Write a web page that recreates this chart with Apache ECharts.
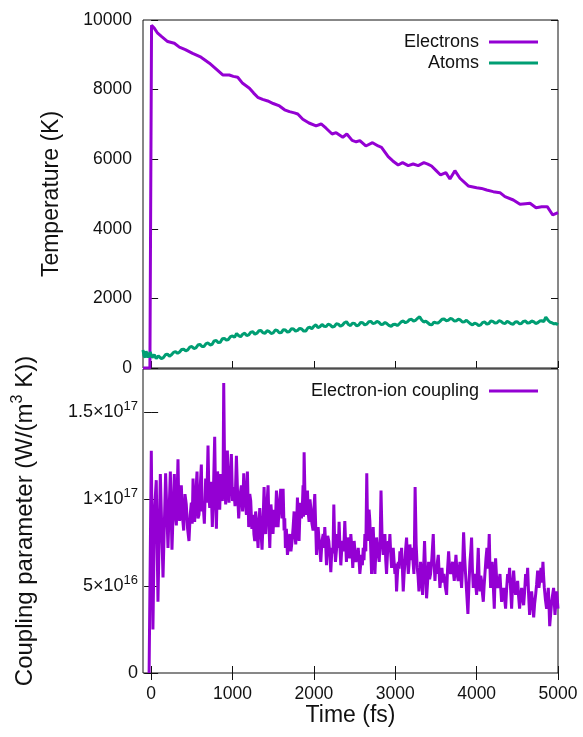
<!DOCTYPE html>
<html>
<head>
<meta charset="utf-8">
<script src="https://cdn.jsdelivr.net/npm/echarts@6/dist/echarts.min.js"></script>
<style>
  html, body { margin: 0; padding: 0; background: #fff; }
  #chart { width: 583px; height: 737px; }
</style>
</head>
<body>
<div id="chart"></div>
<script>
  // time in fs, temperature in K
  const electronPoints = [
    [-100, 0], [-15, 0], [5, 9850], [40, 9760], [80, 9620], [130, 9520], [203, 9380], [285, 9330],
    [347, 9220], [420, 9150], [510, 9040], [613, 8930], [716, 8760], [800, 8590], [880, 8420],
    [960, 8420], [1010, 8380], [1064, 8354], [1125, 8180], [1208, 8040], [1260, 7900], [1310, 7780],
    [1370, 7720], [1433, 7673], [1500, 7600], [1577, 7530], [1640, 7420], [1700, 7366], [1760, 7330],
    [1802, 7300], [1864, 7150], [1940, 7040], [2027, 6955], [2089, 7012], [2150, 6890], [2224, 6725],
    [2273, 6763], [2355, 6630], [2405, 6725], [2470, 6540], [2520, 6500], [2565, 6533], [2638, 6380],
    [2721, 6475], [2790, 6380], [2831, 6342], [2913, 6073], [2970, 5950], [3036, 5834], [3090, 5900],
    [3159, 5814], [3220, 5863], [3282, 5814], [3352, 5900], [3400, 5860], [3446, 5805], [3500, 5680],
    [3557, 5547], [3622, 5613], [3672, 5432], [3733, 5670], [3795, 5452], [3897, 5231], [4000, 5182],
    [4060, 5160], [4123, 5116], [4204, 5067], [4287, 5038], [4348, 4923], [4451, 4828], [4533, 4704],
    [4600, 4720], [4656, 4733], [4730, 4607], [4800, 4636], [4868, 4636], [4935, 4397], [5000, 4464]
  ];

  const atomPoints = [
    [-100, 520], [-88, 360], [-75, 300], [-62, 480], [-50, 450], [-37, 300], [-25, 280], [-12, 460],
    [0, 420], [12, 300], [25, 250], [38, 380], [50, 360], [62, 270], [75, 240], [88, 350], [100, 340],
    [125, 270], [150, 300], [175, 380], [200, 400], [225, 340], [250, 380], [275, 450], [300, 470],
    [325, 420], [350, 460], [375, 530], [400, 540], [425, 490], [450, 520], [475, 600], [500, 620],
    [525, 560], [550, 580], [575, 660], [600, 680], [625, 620], [650, 620], [675, 700], [700, 720],
    [725, 660], [750, 680], [775, 780], [800, 790], [825, 730], [850, 740], [875, 840], [900, 850],
    [925, 800], [950, 820], [975, 900], [1000, 920], [1025, 880], [1050, 990], [1075, 930], [1100, 900],
    [1125, 970], [1150, 1000], [1175, 930], [1200, 950], [1225, 1030], [1250, 1040], [1275, 970],
    [1300, 1000], [1325, 1070], [1350, 1080], [1375, 1010], [1400, 1000], [1425, 1070], [1450, 1050],
    [1475, 990], [1500, 1010], [1525, 1090], [1550, 1080], [1575, 1010], [1600, 1020], [1625, 1100],
    [1650, 1090], [1675, 1030], [1700, 1050], [1725, 1130], [1750, 1120], [1775, 1060], [1800, 1080],
    [1825, 1140], [1850, 1120], [1875, 1060], [1900, 1060], [1925, 1150], [1950, 1170], [1975, 1130],
    [2000, 1200], [2025, 1240], [2050, 1160], [2075, 1190], [2100, 1250], [2125, 1200], [2150, 1190],
    [2175, 1260], [2200, 1240], [2225, 1180], [2250, 1190], [2275, 1270], [2300, 1260], [2325, 1200],
    [2350, 1230], [2375, 1300], [2400, 1330], [2425, 1250], [2450, 1220], [2475, 1290], [2500, 1280],
    [2525, 1210], [2550, 1230], [2575, 1310], [2600, 1300], [2625, 1240], [2650, 1260], [2675, 1330],
    [2700, 1340], [2725, 1280], [2750, 1290], [2775, 1340], [2800, 1310], [2825, 1250], [2850, 1260],
    [2875, 1310], [2900, 1270], [2925, 1220], [2950, 1200], [2975, 1250], [3000, 1260], [3025, 1220],
    [3050, 1270], [3075, 1330], [3100, 1350], [3125, 1300], [3150, 1330], [3175, 1390], [3200, 1400],
    [3225, 1350], [3250, 1370], [3275, 1430], [3300, 1470], [3325, 1380], [3350, 1320], [3375, 1350],
    [3400, 1300], [3425, 1250], [3450, 1240], [3475, 1320], [3500, 1300], [3525, 1290], [3550, 1340],
    [3575, 1400], [3600, 1410], [3625, 1360], [3650, 1370], [3675, 1420], [3700, 1410], [3725, 1350],
    [3750, 1360], [3775, 1400], [3800, 1380], [3825, 1320], [3850, 1330], [3875, 1370], [3900, 1320],
    [3925, 1270], [3950, 1240], [3975, 1290], [4000, 1270], [4025, 1220], [4050, 1240], [4075, 1310],
    [4100, 1320], [4125, 1260], [4150, 1280], [4175, 1350], [4200, 1340], [4225, 1290], [4250, 1300],
    [4275, 1360], [4300, 1340], [4325, 1290], [4350, 1280], [4375, 1340], [4400, 1310], [4425, 1270],
    [4450, 1260], [4475, 1320], [4500, 1330], [4525, 1270], [4550, 1280], [4575, 1340], [4600, 1350],
    [4625, 1290], [4650, 1300], [4675, 1350], [4700, 1330], [4725, 1280], [4750, 1300], [4775, 1350],
    [4800, 1360], [4825, 1330], [4850, 1460], [4875, 1380], [4900, 1320], [4925, 1300], [4950, 1270],
    [4975, 1280], [5000, 1240]
  ];

  // coupling in units of 1e16 W/(m^3 K)
  const couplingPoints = [
    [-25, 0], [2, 12.8], [22, 2.5], [43, 9.5], [63, 11.1], [84, 4.1], [113, 11.45], [146, 5.5],
    [178, 11.5], [207, 7.2], [236, 11.6], [256, 7.1], [285, 11.45], [297, 9.2], [310, 8.5], [320, 10.4],
    [330, 12.3], [340, 9.6], [350, 8.75], [360, 10.2], [371, 10.8], [385, 9.0], [400, 8.2], [416, 10.3],
    [432, 9.7], [448, 8.3], [465, 7.6], [480, 9.1], [494, 9.8], [505, 8.6], [515, 11.2], [525, 9.4],
    [535, 8.7], [550, 10.4], [564, 11.6], [576, 8.9], [588, 9.1], [602, 10.6], [617, 12.0], [627, 9.3],
    [637, 9.9], [654, 8.6], [670, 11.2], [684, 9.8], [699, 13.1], [710, 10.2], [720, 9.5], [736, 11.0],
    [752, 8.4], [766, 10.6], [781, 13.6], [792, 10.0], [802, 8.3], [816, 11.6], [830, 10.8], [843, 9.4],
    [855, 11.45], [865, 10.2], [875, 9.9], [884, 11.0], [892, 16.7], [904, 11.2], [916, 9.7], [927, 11.0],
    [937, 12.8], [947, 10.6], [957, 9.8], [972, 11.3], [986, 12.6], [1000, 9.9], [1015, 10.7], [1031, 9.6],
    [1048, 12.5], [1062, 10.4], [1076, 8.9], [1092, 10.2], [1109, 10.8], [1124, 9.3], [1138, 11.5],
    [1155, 10.0], [1171, 9.1], [1183, 11.6], [1199, 8.4], [1212, 10.3], [1224, 9.9], [1238, 8.3],
    [1253, 9.1], [1263, 8.0], [1273, 7.6], [1284, 9.3], [1294, 8.75], [1304, 8.0], [1314, 7.2],
    [1325, 8.6], [1335, 9.5], [1349, 8.2], [1363, 7.1], [1376, 8.8], [1388, 10.7], [1398, 8.7],
    [1408, 8.0], [1422, 9.6], [1437, 10.8], [1448, 8.6], [1458, 7.2], [1472, 9.7], [1486, 8.9],
    [1498, 8.0], [1511, 9.4], [1525, 8.4], [1540, 10.5], [1550, 9.0], [1560, 8.4], [1576, 9.8],
    [1593, 10.6], [1608, 8.9], [1622, 10.6], [1634, 8.2], [1642, 8.9], [1650, 7.2], [1662, 8.3],
    [1675, 6.8], [1690, 7.4], [1704, 8.0], [1718, 7.0], [1732, 7.6], [1745, 8.4], [1757, 9.3],
    [1767, 8.0], [1777, 7.4], [1788, 8.6], [1798, 10.1], [1808, 8.4], [1818, 7.6], [1832, 9.8],
    [1847, 8.9], [1857, 9.4], [1867, 10.8], [1873, 9.0], [1880, 12.7], [1890, 10.3], [1900, 9.1],
    [1910, 9.9], [1921, 10.5], [1931, 9.2], [1941, 8.7], [1952, 10.0], [1962, 9.5], [1976, 8.6],
    [1990, 8.2], [2000, 9.4], [2011, 10.3], [2022, 8.5], [2032, 6.8], [2042, 7.9], [2052, 8.4],
    [2068, 7.4], [2085, 6.4], [2100, 7.6], [2114, 8.0], [2124, 7.2], [2134, 8.4], [2145, 7.4],
    [2155, 6.2], [2170, 7.9], [2183, 7.6], [2196, 6.8], [2208, 5.8], [2216, 6.6], [2224, 7.2],
    [2235, 6.9], [2245, 9.7], [2255, 7.6], [2265, 6.4], [2278, 7.1], [2290, 8.0], [2300, 7.2],
    [2310, 8.7], [2320, 7.3], [2331, 6.2], [2341, 7.0], [2351, 7.6], [2366, 7.0], [2380, 8.75],
    [2390, 7.5], [2400, 6.4], [2415, 7.8], [2429, 7.4], [2441, 6.6], [2454, 8.0], [2466, 7.2],
    [2478, 6.05], [2487, 7.0], [2495, 7.6], [2505, 7.0], [2516, 6.4], [2530, 6.6], [2545, 7.2],
    [2555, 6.5], [2565, 5.7], [2576, 6.3], [2586, 6.8], [2596, 6.2], [2606, 7.2], [2616, 6.5],
    [2627, 8.0], [2638, 7.0], [2650, 11.5], [2659, 8.6], [2668, 7.6], [2678, 9.4], [2688, 8.75],
    [2698, 7.2], [2709, 5.7], [2719, 7.0], [2729, 8.4], [2740, 7.0], [2750, 5.7], [2760, 6.8],
    [2770, 7.8], [2786, 7.0], [2803, 6.4], [2814, 7.6], [2825, 10.5], [2838, 7.8], [2852, 6.8],
    [2862, 7.4], [2873, 8.0], [2883, 6.5], [2893, 5.7], [2904, 6.8], [2914, 7.6], [2924, 7.0],
    [2934, 8.0], [2944, 6.9], [2955, 6.05], [2965, 6.8], [2975, 7.2], [2986, 6.4], [2996, 5.7],
    [3006, 6.3], [3016, 4.7], [3026, 5.6], [3037, 6.4], [3047, 6.0], [3057, 7.0], [3067, 6.4],
    [3078, 7.2], [3088, 6.0], [3098, 4.7], [3108, 5.6], [3119, 6.4], [3129, 7.2], [3139, 7.8],
    [3150, 6.6], [3160, 5.7], [3170, 6.3], [3180, 7.4], [3195, 6.5], [3209, 7.2], [3219, 6.4],
    [3229, 5.7], [3236, 7.5], [3244, 10.7], [3257, 7.4], [3270, 6.05], [3280, 5.6], [3291, 4.7],
    [3301, 5.4], [3311, 6.4], [3323, 5.6], [3336, 4.5], [3348, 6.0], [3360, 7.6], [3372, 5.9],
    [3385, 4.3], [3397, 5.2], [3410, 6.4], [3422, 5.4], [3434, 5.7], [3450, 6.6], [3467, 8.0],
    [3477, 6.4], [3488, 5.3], [3498, 6.2], [3508, 5.7], [3518, 6.4], [3529, 6.8], [3539, 5.8],
    [3549, 4.9], [3561, 5.5], [3574, 6.05], [3586, 5.2], [3598, 5.7], [3614, 5.0], [3631, 4.5],
    [3643, 6.0], [3656, 7.0], [3668, 6.0], [3680, 5.7], [3692, 6.0], [3705, 6.4], [3715, 5.8],
    [3725, 5.3], [3735, 6.0], [3746, 6.8], [3760, 5.7], [3774, 5.3], [3785, 5.9], [3795, 6.4],
    [3805, 5.6], [3815, 4.9], [3828, 6.2], [3840, 8.1], [3852, 6.7], [3864, 5.7], [3878, 4.6],
    [3893, 3.4], [3905, 5.0], [3918, 6.4], [3928, 7.0], [3938, 7.8], [3948, 6.0], [3959, 4.9],
    [3969, 5.3], [3979, 5.7], [3990, 5.0], [4000, 4.5], [4010, 6.0], [4020, 7.2], [4030, 5.6],
    [4041, 4.7], [4051, 5.6], [4061, 5.3], [4071, 4.6], [4082, 4.1], [4092, 5.0], [4102, 5.7],
    [4115, 6.6], [4127, 7.2], [4140, 6.0], [4155, 8.0], [4163, 6.2], [4172, 4.9], [4182, 5.8],
    [4192, 6.4], [4205, 5.0], [4217, 3.7], [4225, 5.2], [4233, 6.6], [4245, 5.5], [4258, 4.9],
    [4272, 5.2], [4287, 5.7], [4297, 4.8], [4307, 4.1], [4320, 4.6], [4332, 4.9], [4344, 4.3],
    [4356, 3.7], [4368, 4.8], [4381, 5.7], [4393, 5.2], [4405, 6.05], [4418, 4.8], [4430, 3.7],
    [4442, 5.0], [4455, 5.9], [4467, 5.0], [4479, 4.5], [4491, 4.9], [4504, 5.3], [4516, 4.4],
    [4528, 3.7], [4540, 4.4], [4553, 4.9], [4565, 4.3], [4578, 3.9], [4590, 4.7], [4602, 5.7],
    [4614, 5.0], [4627, 6.05], [4639, 4.5], [4651, 3.35], [4663, 4.1], [4676, 4.7], [4688, 4.0],
    [4701, 3.2], [4713, 4.0], [4725, 4.5], [4737, 5.1], [4750, 5.9], [4758, 5.2], [4766, 4.9],
    [4778, 5.4], [4791, 6.05], [4803, 5.2], [4815, 6.4], [4823, 5.6], [4832, 4.9], [4846, 4.2],
    [4860, 3.7], [4870, 4.3], [4881, 4.9], [4890, 3.8], [4898, 2.7], [4910, 3.4], [4922, 4.1],
    [4934, 4.5], [4946, 4.9], [4955, 4.0], [4963, 3.35], [4974, 4.1], [4984, 4.7], [4992, 4.2],
    [5000, 3.7]
  ];

  const timeTicks = [0, 1000, 2000, 3000, 4000, 5000];
  const tempTicks = [0, 2000, 4000, 6000, 8000, 10000];
  const couplingTicks = [0, 5, 10, 15];

  const FONT = 'Liberation Sans, Arial, sans-serif';
  const INK = '#111';
  const PURPLE = '#9400d3';
  const GREEN = '#009e73';

  function couplingLabel(v) {
    if (v === 0) return '0';
    const exp = Math.floor(Math.log10(v * 1e16) + 1e-9);
    const mant = +(v * 1e16 / Math.pow(10, exp)).toFixed(2);
    return mant + '×10{sup|' + exp + '}';
  }
  const plainNumber = (v) => String(v);

  const tick = (values) => ({
    show: true, inside: true, length: 7, customValues: values,
    lineStyle: { color: INK, width: 1 }
  });
  const plainAxis = {
    axisLine: { show: false },
    splitLine: { show: false }
  };
  const legendBase = {
    align: 'right', icon: 'rect', itemWidth: 49, itemHeight: 3, right: 40,
    textStyle: { fontFamily: FONT, fontSize: 18, color: INK, padding: [0, 5, 0, 0] }
  };

  const chart = echarts.init(document.getElementById('chart'));
  chart.setOption({
    animation: false,
    textStyle: { fontFamily: FONT, color: INK },
    grid: [
      { left: 143, right: 25, top: 20, height: 348, show: true, borderColor: INK, borderWidth: 1 },
      { left: 143, right: 25, top: 369, height: 304, show: true, borderColor: INK, borderWidth: 1 }
    ],
    legend: [
      { ...legendBase, data: ['Electrons'], top: 28 },
      { ...legendBase, data: ['Atoms'], top: 49 },
      { ...legendBase, data: ['Electron-ion coupling'], top: 377 }
    ],
    xAxis: [
      {
        ...plainAxis, type: 'value', gridIndex: 0, min: -100, max: 5000,
        axisTick: tick(timeTicks), axisLabel: { show: false }
      },
      {
        ...plainAxis, type: 'value', gridIndex: 1, min: -100, max: 5000,
        axisTick: tick(timeTicks),
        axisLabel: {
          customValues: timeTicks, formatter: plainNumber, fontSize: 17.5, color: INK,
          fontFamily: FONT, margin: 12
        },
        name: 'Time (fs)', nameLocation: 'middle', nameGap: 31,
        nameTextStyle: { fontSize: 23, color: INK, fontFamily: FONT }
      },
      {
        ...plainAxis, type: 'value', gridIndex: 1, position: 'top', min: -100, max: 5000,
        axisTick: tick(timeTicks), axisLabel: { show: false }
      }
    ],
    yAxis: [
      {
        ...plainAxis, type: 'value', gridIndex: 0, min: 0, max: 10000,
        axisTick: tick(tempTicks),
        axisLabel: {
          customValues: tempTicks, formatter: plainNumber, fontSize: 17.5, color: INK,
          fontFamily: FONT, margin: 11
        },
        name: 'Temperature (K)', nameLocation: 'middle', nameGap: 80,
        nameTextStyle: { fontSize: 23, color: INK, fontFamily: FONT }
      },
      {
        ...plainAxis, type: 'value', gridIndex: 0, position: 'right', min: 0, max: 10000,
        axisTick: tick(tempTicks), axisLabel: { show: false }
      },
      {
        ...plainAxis, type: 'value', gridIndex: 1, min: 0, max: 17.5,
        axisTick: tick(couplingTicks),
        axisLabel: {
          customValues: couplingTicks, formatter: couplingLabel, fontSize: 18, color: INK,
          fontFamily: FONT, margin: 5,
          rich: { sup: { fontSize: 13, color: INK, fontFamily: FONT, padding: [0, 0, 12, 0] } }
        },
        name: 'Coupling parameter (W/(m{sup|3} K))', nameLocation: 'middle', nameGap: 103,
        nameTextStyle: {
          fontSize: 24, color: INK, fontFamily: FONT,
          rich: { sup: { fontSize: 16, color: INK, fontFamily: FONT, padding: [0, 0, 14, 0] } }
        }
      },
      {
        ...plainAxis, type: 'value', gridIndex: 1, position: 'right', min: 0, max: 17.5,
        axisTick: tick(couplingTicks), axisLabel: { show: false }
      }
    ],
    series: [
      {
        name: 'Electrons', type: 'line', xAxisIndex: 0, yAxisIndex: 0, data: electronPoints,
        showSymbol: false, lineStyle: { color: PURPLE, width: 3 }, itemStyle: { color: PURPLE }
      },
      {
        name: 'Atoms', type: 'line', xAxisIndex: 0, yAxisIndex: 0, data: atomPoints,
        showSymbol: false, lineStyle: { color: GREEN, width: 3 }, itemStyle: { color: GREEN }
      },
      {
        name: 'Electron-ion coupling', type: 'line', xAxisIndex: 1, yAxisIndex: 2, data: couplingPoints,
        showSymbol: false, lineStyle: { color: PURPLE, width: 3 }, itemStyle: { color: PURPLE }
      }
    ]
  });
</script>
</body>
</html>
